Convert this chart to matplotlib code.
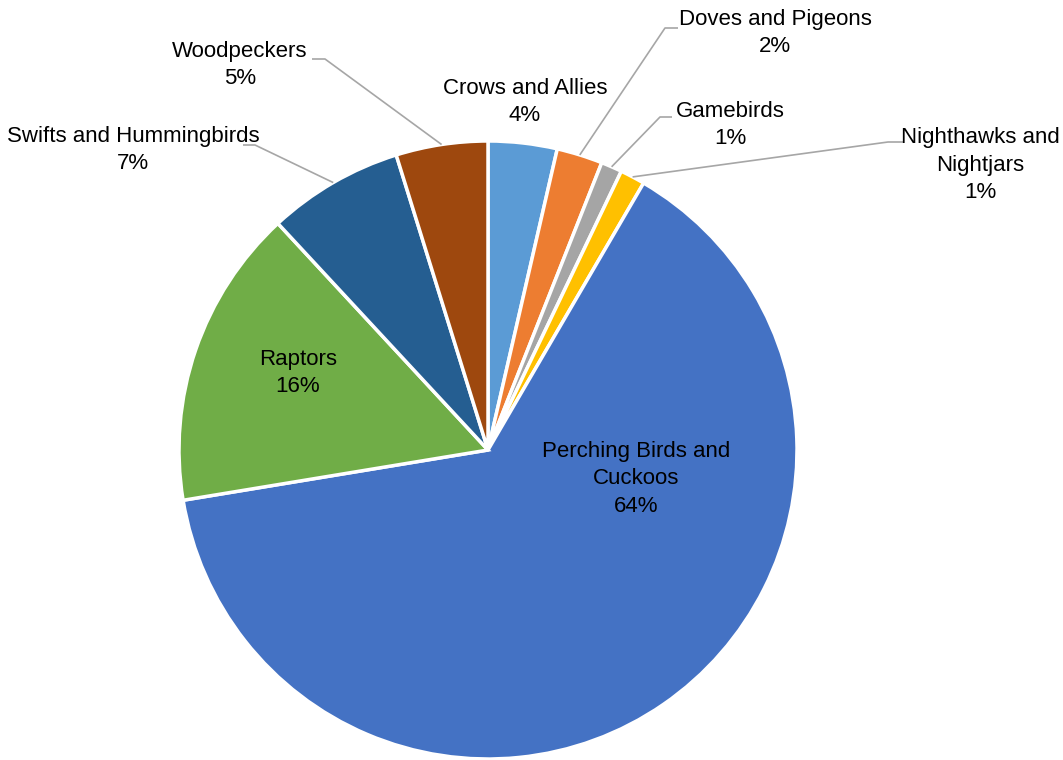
import matplotlib
matplotlib.use("Agg")
import matplotlib.pyplot as plt
import numpy as np

categories = ["Crows and Allies", "Doves and Pigeons", "Gamebirds",
              "Nighthawks and\nNightjars", "Perching Birds and\nCuckoos",
              "Raptors", "Swifts and Hummingbirds", "Woodpeckers"]
shares = [3.6, 2.4, 1.1, 1.3, 64.0, 15.7, 7.1, 4.8]
colors = ["#5B9BD5", "#ED7D31", "#A5A5A5", "#FFC000", "#4472C4",
          "#70AD47", "#255E91", "#9E480E"]

plt.rcParams["font.family"] = ["Liberation Sans", "DejaVu Sans"]

W, H = 1063, 760
CX, CY, R = 488, 450, 309


def px(x, y):
    # pixel position -> data coords (pie centre at origin, radius 1)
    return (x - CX) / R, (CY - y) / R


fig = plt.figure(figsize=(W / 100, H / 100), dpi=100)
ax = fig.add_axes([0, 0, 1, 1])

wedges, _ = ax.pie(shares, colors=colors, startangle=90, counterclock=False,
                   radius=1, center=(0, 0),
                   wedgeprops=dict(edgecolor="white", linewidth=2.5))
ax.set_xlim(-CX / R, (W - CX) / R)
ax.set_ylim(-(H - CY) / R, CY / R)
ax.set_aspect("equal")
ax.axis("off")

# label block centre (px), leader elbow (px), leader end (px)
layout = [
    ((525, 102), None, None),
    ((775, 33), (665, 28), (678, 28)),
    ((730, 125), (660, 117), (672, 117)),
    ((980, 165), (888, 142), (903, 142)),
    ((636, 479), None, None),
    ((298, 373), None, None),
    ((133, 150), (255, 145), (243, 145)),
    ((240, 65), (325, 59), (312, 59)),
]

for w, name, val, (pos, elbow, end) in zip(wedges, categories, shares, layout):
    tx, ty = px(*pos)
    ax.text(tx, ty, f"{name}\n{val:.0f}%", ha="center", va="center",
            fontsize=16, color="black", linespacing=1.42)
    if elbow is not None:
        mid = np.deg2rad((w.theta1 + w.theta2) / 2)
        sx, sy = np.cos(mid), np.sin(mid)
        ex, ey = px(*elbow)
        fx, fy = px(*end)
        ax.plot([sx, ex, fx], [sy, ey, fy], color="#A6A6A6", lw=1.2,
                solid_capstyle="butt")

fig.savefig("out.png", dpi=100)
